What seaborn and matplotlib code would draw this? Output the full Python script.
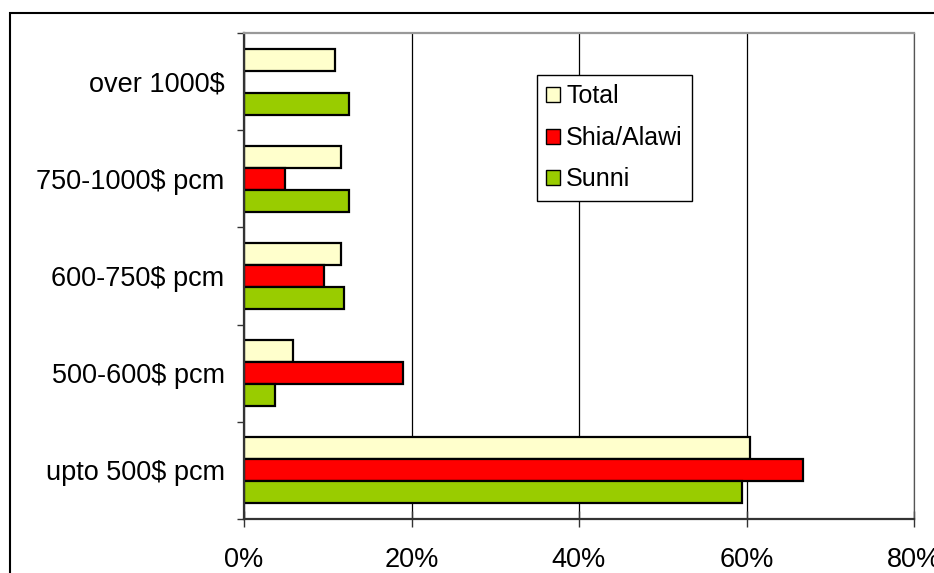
import pandas as pd
import matplotlib.pyplot as plt
import seaborn as sns
from matplotlib.patches import Patch, Rectangle
from matplotlib.ticker import PercentFormatter, FixedLocator

# Income groups (top to bottom) and share of each population
categories = ["over 1000$", "750-1000$ pcm", "600-750$ pcm", "500-600$ pcm", "upto 500$ pcm"]
groups = ["Total", "Shia/Alawi", "Sunni"]
total = [10.9, 11.6, 11.6, 5.8, 60.4]
shia = [0.0, 4.9, 9.5, 19.0, 66.7]
sunni = [12.5, 12.5, 11.9, 3.7, 59.5]
colors = ["#FFFFCC", "#FF0000", "#99CC00"]

df = pd.DataFrame({
    "income": categories * 3,
    "group": [g for g in groups for _ in categories],
    "share": total + shia + sunni,
})

sns.set_style("white")
plt.rcParams['font.family'] = ['Liberation Sans', 'DejaVu Sans']
plt.rcParams['text.color'] = 'black'
plt.rcParams['xtick.color'] = 'black'
plt.rcParams['ytick.color'] = 'black'

fig = plt.figure(figsize=(9.34, 5.73), dpi=100)
ax = fig.add_axes([244 / 934, 54 / 573, 670 / 934, 486 / 573])

sns.barplot(data=df, y="income", x="share", hue="group", order=categories,
            hue_order=groups, palette=colors, saturation=1, width=0.68,
            edgecolor="black", linewidth=1.6, orient="h", ax=ax)

ax.set_xlim(0, 80)
ax.set_xticks([0, 20, 40, 60, 80])
ax.xaxis.set_major_formatter(PercentFormatter(100, decimals=0))
ax.grid(axis="x", color="black", linewidth=0.9)
ax.set_axisbelow(True)
ax.set_xlabel("")
ax.set_ylabel("")

# spines
ax.spines["left"].set_color("#333333")
ax.spines["left"].set_linewidth(1.6)
ax.spines["bottom"].set_color("#333333")
ax.spines["bottom"].set_linewidth(1.6)
ax.spines["top"].set_color("#999999")
ax.spines["top"].set_linewidth(1.6)
ax.spines["right"].set_color("#555555")
ax.spines["right"].set_linewidth(0.9)

# ticks
ax.tick_params(axis="x", which="major", direction="inout", length=12, width=1,
               color="#333333", labelcolor="black", labelsize=19.5, pad=14, bottom=True)
ax.tick_params(axis="y", which="major", length=0, labelsize=19.5, pad=14,
               labelcolor="black", left=True)
ax.yaxis.set_minor_locator(FixedLocator([i - 0.5 for i in range(len(categories) + 1)]))
ax.tick_params(axis="y", which="minor", direction="out", length=5, width=1,
               color="#333333", left=True)

# legend
handles = [Patch(facecolor=c, edgecolor="black", linewidth=1) for c in colors]
leg = ax.legend(handles, groups, loc="upper left", bbox_to_anchor=(0.437, 0.9136),
                borderaxespad=0, fontsize=18, handlelength=0.55, handleheight=0.55,
                handletextpad=0.25, labelspacing=0.7, borderpad=0.38,
                fancybox=False, framealpha=1, edgecolor="black")
leg.get_frame().set_linewidth(1)
for t in leg.get_texts():
    t.set_color("black")

# outer chart border
fig.patches.append(Rectangle((9.5 / 934, -0.05), 1.1, (573 - 12.5) / 573 + 0.05,
                             transform=fig.transFigure, fill=False,
                             edgecolor="black", linewidth=1.5))

fig.savefig("out.png", dpi=100)
